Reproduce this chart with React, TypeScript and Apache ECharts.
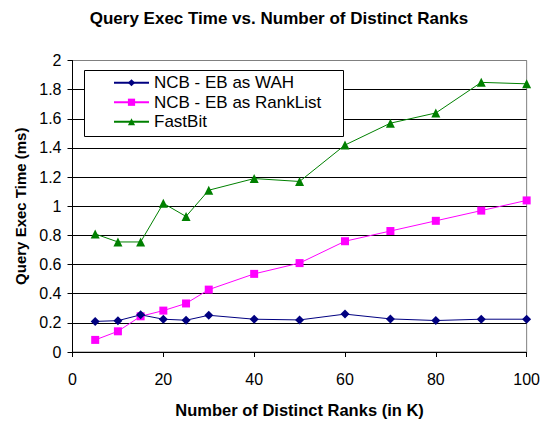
import React, { useEffect, useRef } from "react";
import * as echarts from "echarts";

const ranksK = [5, 10, 15, 20, 25, 30, 40, 50, 60, 70, 80, 90, 100];
const wah = [0.21, 0.215, 0.255, 0.225, 0.218, 0.252, 0.225, 0.22, 0.26, 0.227, 0.216, 0.225, 0.225];
const rankList = [0.083, 0.142, 0.245, 0.284, 0.333, 0.428, 0.536, 0.61, 0.76, 0.83, 0.9, 0.97, 1.04];
const fastBit = [0.81, 0.755, 0.755, 1.02, 0.93, 1.11, 1.19, 1.17, 1.42, 1.57, 1.64, 1.85, 1.84];
const seriesNames = ["NCB - EB as WAH", "NCB - EB as RankList", "FastBit"];

const FONT = "'Liberation Sans', Arial, sans-serif";

export default function App() {
  const ref = useRef<HTMLDivElement>(null);
  useEffect(() => {
    if (!ref.current) return;
    const chart = echarts.init(ref.current, null, { renderer: "svg" });
    const pair = (ys: number[]) => ranksK.map((x, i) => [x, ys[i]]);
    const gridColors = ["#000", "#000", "#000", "#000", "#000", "#000", "#000", "#000", "#000", "#000", "#808080"];
    chart.setOption({
      animation: false,
      backgroundColor: "#fff",
      textStyle: { fontFamily: FONT },
      grid: {
        left: 72.5,
        right: 13,
        top: 60.5,
        bottom: 67.5,
        show: true,
        borderColor: "#808080",
        borderWidth: 1,
        backgroundColor: "transparent",
      },
      graphic: [
        {
          type: "text",
          x: 279,
          y: 18,
          style: {
            text: "Query Exec Time vs. Number of Distinct Ranks",
            font: `bold 17px ${FONT}`,
            fill: "#000",
            align: "center",
            verticalAlign: "middle",
          },
        },
        {
          type: "rect",
          z: 10,
          shape: { x: 84.5, y: 70.5, width: 259, height: 66 },
          style: { fill: "#fff", stroke: "#000", lineWidth: 1 },
        },
      ],
      legend: {
        orient: "vertical",
        left: 113,
        top: 73,
        padding: 0,
        itemGap: 0,
        itemWidth: 35,
        itemHeight: 9,
        z: 20,
        data: seriesNames,
        textStyle: { fontSize: 17, color: "#000", fontFamily: FONT, lineHeight: 19.5, padding: [0, 0, 0, 0] },
      },
      xAxis: {
        type: "value",
        min: 0,
        max: 100,
        interval: 20,
        name: "Number of Distinct Ranks (in K)",
        nameLocation: "middle",
        nameGap: 49,
        nameTextStyle: { fontWeight: "bold", fontSize: 16.5, color: "#000" },
        axisLine: { lineStyle: { color: "#000", width: 1 } },
        axisTick: { show: true, length: 5, inside: false, lineStyle: { color: "#000" } },
        axisLabel: { fontSize: 16, color: "#000", margin: 19 },
        splitLine: { show: false },
      },
      yAxis: {
        type: "value",
        min: 0,
        max: 2,
        interval: 0.2,
        name: "Query Exec Time (ms)",
        nameLocation: "middle",
        nameGap: 45,
        nameTextStyle: { fontWeight: "bold", fontSize: 15, color: "#000" },
        axisLine: { show: true, lineStyle: { color: "#000", width: 1 } },
        axisTick: { show: true, length: 5, lineStyle: { color: "#000" } },
        axisLabel: { fontSize: 16, color: "#000", margin: 11 },
        splitLine: { show: true, lineStyle: { color: gridColors, width: 1 } },
      },
      series: [
        {
          name: seriesNames[0],
          type: "line",
          data: pair(wah),
          symbol: "diamond",
          symbolSize: 9,
          lineStyle: { color: "#000080", width: 1 },
          itemStyle: { color: "#000080" },
          z: 4,
        },
        {
          name: seriesNames[1],
          type: "line",
          data: pair(rankList),
          symbol: "rect",
          symbolSize: 8,
          lineStyle: { color: "#ff00ff", width: 1 },
          itemStyle: { color: "#ff00ff" },
          z: 3,
        },
        {
          name: seriesNames[2],
          type: "line",
          data: pair(fastBit),
          symbol: "triangle",
          symbolSize: 9,
          lineStyle: { color: "#008000", width: 1 },
          itemStyle: { color: "#008000" },
          z: 2,
        },
      ],
    });
    return () => chart.dispose();
  }, []);
  return <div ref={ref} style={{ width: 543, height: 423, position: "absolute", left: 0, top: 0 }} />;
}
